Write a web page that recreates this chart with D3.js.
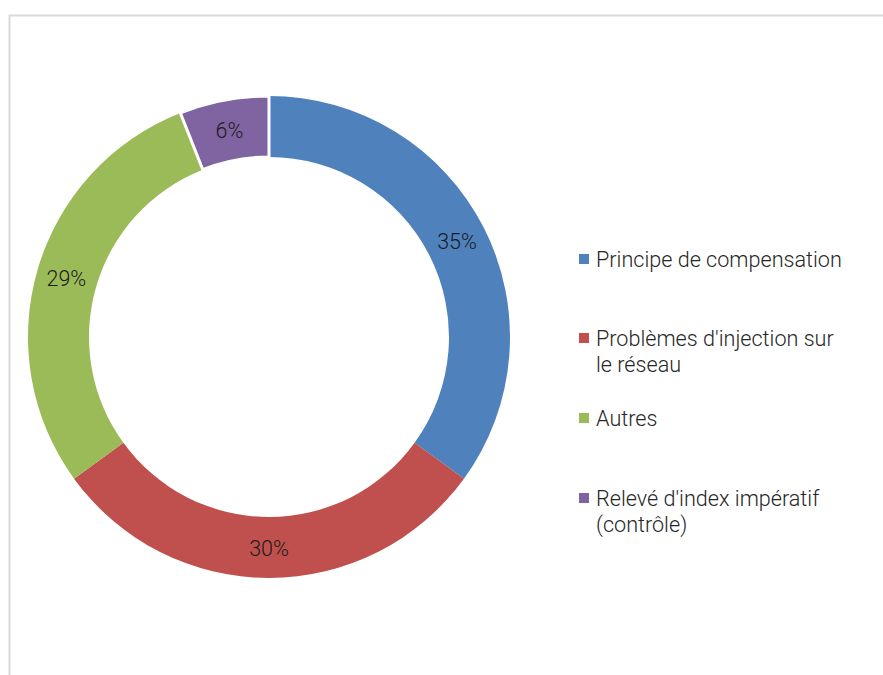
<!DOCTYPE html>
<html>
<head>
<meta charset="utf-8">
<script src="https://cdn.jsdelivr.net/npm/d3@7"></script>
<style>
  html, body { margin: 0; padding: 0; background: #fff; }
  svg { display: block; }
  text { font-family: Roboto, "Noto Sans", sans-serif; }
</style>
</head>
<body>
<svg id="chart" width="883" height="675"></svg>
<script>
// Répartition des motifs
const categories = [
  "Principe de compensation",
  "Problèmes d'injection sur le réseau",
  "Autres",
  "Relevé d'index impératif (contrôle)"
];
const values = [35, 30, 29, 6];
const colors = ["#4F81BD", "#C0504D", "#9BBB59", "#8064A2"];
// Legend labels as wrapped lines
const legendLines = [
  ["Principe de compensation"],
  ["Problèmes d'injection sur", "le réseau"],
  ["Autres"],
  ["Relevé d'index impératif", "(contrôle)"]
];

const svg = d3.select("#chart");

// Chart area frame
svg.append("path")
  .attr("d", "M9.5,675 L9.5,15.5 L883,15.5")
  .attr("fill", "none")
  .attr("stroke", "#d9d9d9")
  .attr("stroke-width", 2);

const cx = 269, cy = 337;
const outerR = 241, innerR = 180;

const pie = d3.pie().sort(null).value(d => d.value);
const data = categories.map((c, i) => ({ name: c, value: values[i], color: colors[i] }));
const arcs = pie(data);

const arc = d3.arc().innerRadius(innerR).outerRadius(outerR);
const labelArc = d3.arc().innerRadius(211).outerRadius(211);

const g = svg.append("g").attr("transform", `translate(${cx},${cy})`);

g.selectAll("path.slice")
  .data(arcs)
  .join("path")
  .attr("class", "slice")
  .attr("d", arc)
  .attr("fill", d => d.data.color)
  .attr("stroke", (d, i) => i === 3 ? "#fff" : "none")
  .attr("stroke-width", 3)
  .attr("stroke-linejoin", "miter");

const fmt = d3.format(".0%");
const total = d3.sum(values);

g.selectAll("text.pct")
  .data(arcs)
  .join("text")
  .attr("class", "pct")
  .attr("transform", d => {
    const [x, y] = labelArc.centroid(d);
    return `translate(${x},${y + 8})`;
  })
  .attr("text-anchor", "middle")
  .attr("font-size", 21.5)
  .attr("font-weight", 300)
  .attr("fill", "#1a1a1a")
  .text(d => fmt(d.data.value / total));

// Legend
const legendBase = [267, 346, 426, 506];
const legend = svg.append("g");
legendLines.forEach((lines, i) => {
  legend.append("rect")
    .attr("x", 579).attr("y", legendBase[i] - 13)
    .attr("width", 10).attr("height", 10)
    .attr("fill", colors[i]);
  const t = legend.append("text")
    .attr("x", 596).attr("y", legendBase[i])
    .attr("font-size", 21.6)
    .attr("font-weight", 300)
    .attr("fill", "#262626");
  lines.forEach((ln, j) => {
    t.append("tspan").attr("x", 596).attr("dy", j === 0 ? 0 : 25.5).text(ln);
  });
});
</script>
</body>
</html>
